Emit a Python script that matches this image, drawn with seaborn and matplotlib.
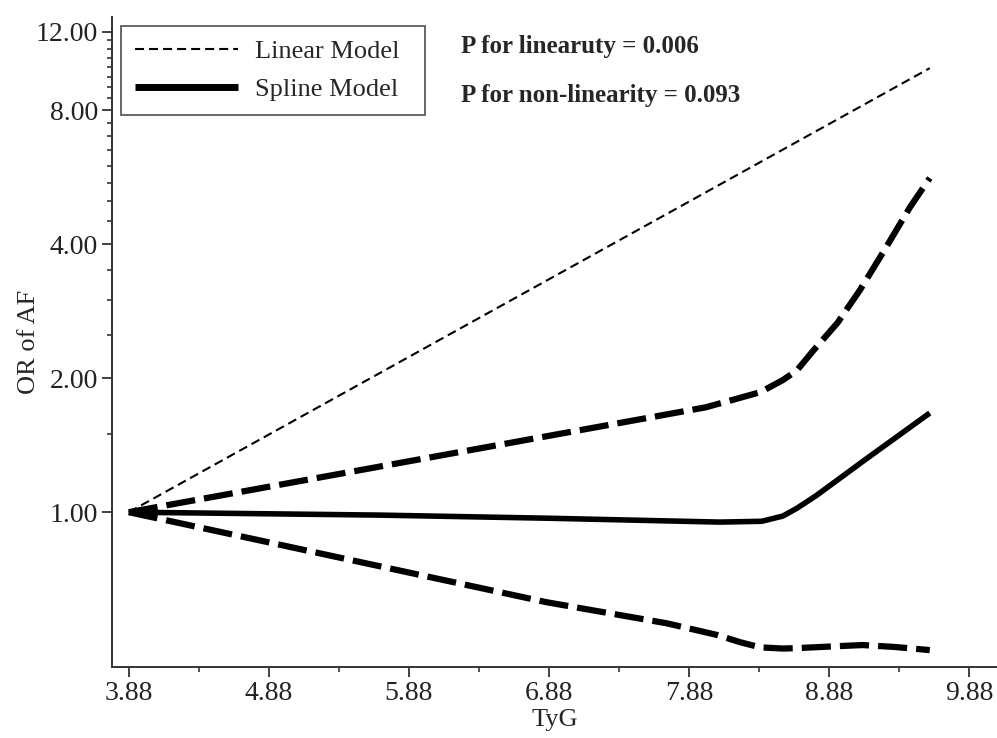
import matplotlib
matplotlib.use("Agg")
import matplotlib.pyplot as plt
import seaborn as sns
from matplotlib.ticker import FixedLocator, FixedFormatter, NullFormatter
from matplotlib.lines import Line2D

# data (OR on a log scale)
lin_x = [3.88, 9.60]
lin_or = [1.00, 9.94]

spl_x = [3.88, 5.67, 6.89, 8.10, 8.40, 8.55, 8.65, 8.79, 9.15, 9.60]
spl_or = [1.00, 0.985, 0.969, 0.950, 0.954, 0.98, 1.02, 1.09, 1.32, 1.67]

up_x = [3.88, 8.00, 8.39, 8.55, 8.65, 8.77, 8.94, 9.10, 9.27, 9.46, 9.60]
up_or = [1.00, 1.72, 1.86, 1.98, 2.08, 2.31, 2.66, 3.15, 3.85, 4.85, 5.63]

lo_x = [3.88, 6.86, 7.72, 8.08, 8.25, 8.39, 8.55, 8.65, 8.94, 9.12, 9.35, 9.60]
lo_or = [1.00, 0.628, 0.563, 0.53, 0.51, 0.497, 0.494, 0.495, 0.50, 0.503, 0.498, 0.49]

x_major = [3.88, 4.88, 5.88, 6.88, 7.88, 8.88, 9.88]
x_minor = [4.38, 5.38, 6.38, 7.38, 8.38, 9.38]
y_major = [1, 2, 4, 8, 12]
y_labels = ["1.00", "2.00", "4.00", "8.00", "12.00"]
y_minor = [1.5, 2.5, 3, 3.5, 4.5, 5, 5.5, 6, 6.5, 7, 7.5,
           8.5, 9, 9.5, 10, 10.5, 11, 11.5]

sns.set_style("ticks")
plt.rcParams["font.family"] = ["Liberation Serif", "DejaVu Serif"]
plt.rcParams["lines.scale_dashes"] = False

fig = plt.figure(figsize=(9.97, 7.38), dpi=100)
ax = fig.add_axes([112 / 997, 1 - 667 / 738, 1 - 112 / 997, (667 - 17) / 738])

common = dict(ax=ax, estimator=None, errorbar=None, color="black")
sns.lineplot(x=lin_x, y=lin_or, linewidth=1.5, linestyle=(0, (6.5, 3.6)), **common)
sns.lineplot(x=spl_x, y=spl_or, linewidth=4.0, solid_capstyle="butt", **common)
sns.lineplot(x=up_x, y=up_or, linewidth=4.5, linestyle=(0, (21, 6.5)),
             dash_capstyle="butt", **common)
sns.lineplot(x=lo_x, y=lo_or, linewidth=4.5, linestyle=(0, (21, 6.5)),
             dash_capstyle="butt", **common)

ax.set_yscale("log")
ax.set_xlim(3.76, 10.08)
ax.set_ylim(0.449, 12.95)

ax.xaxis.set_major_locator(FixedLocator(x_major))
ax.xaxis.set_major_formatter(FixedFormatter([f"{v:.2f}" for v in x_major]))
ax.xaxis.set_minor_locator(FixedLocator(x_minor))
ax.yaxis.set_major_locator(FixedLocator(y_major))
ax.yaxis.set_major_formatter(FixedFormatter(y_labels))
ax.yaxis.set_minor_locator(FixedLocator(y_minor))
ax.yaxis.set_minor_formatter(NullFormatter())

for s in ["top", "right"]:
    ax.spines[s].set_visible(False)
for s in ["left", "bottom"]:
    ax.spines[s].set_linewidth(1.4)
    ax.spines[s].set_color("#333333")

ax.tick_params(which="major", length=7.2, width=1.3, color="#333333",
               labelsize=20, pad=3, labelcolor="#222222")
ax.tick_params(which="minor", length=3.6, width=1.2, color="#333333")

ax.set_xlabel("TyG", fontsize=19, labelpad=2)
ax.set_ylabel("OR of AF", fontsize=19, labelpad=-3)

handles = [
    Line2D([], [], color="black", linewidth=1.5, linestyle=(0, (6.5, 3.6))),
    Line2D([], [], color="black", linewidth=5, solid_capstyle="butt"),
]
leg = ax.legend(handles, ["Linear Model", "Spline Model"], loc="upper left",
                bbox_to_anchor=(121 / 997, 1 - 114 / 738, 304 / 997, 88 / 738),
                bbox_transform=fig.transFigure, mode="expand", fontsize=19,
                frameon=True, fancybox=False, borderaxespad=0, handlelength=3.9,
                handletextpad=0.65, labelspacing=0.55, borderpad=0.52)
leg.get_frame().set_edgecolor("#333333")
leg.get_frame().set_linewidth(1.3)

fig.text(461 / 997, 1 - 53 / 738, "P for linearuty = 0.006", fontsize=18,
         fontweight="bold", va="baseline")
fig.text(461 / 997, 1 - 102 / 738, "P for non-linearity = 0.093", fontsize=18,
         fontweight="bold", va="baseline")

fig.savefig("out.png", dpi=100)
